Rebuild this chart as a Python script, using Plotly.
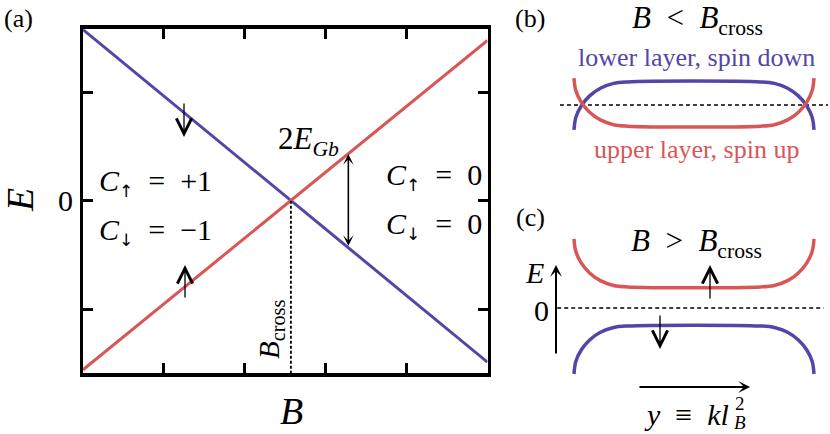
import plotly.graph_objects as go

OFF = 0
FW, FH = 830, 434
BLUE = "#5446a8"
RED = "#d95656"
FONT = "Liberation Serif"
SP = "\u2002"   # en space, wider math-like spacing

# ---------------- data ----------------
# panel (a): energies vs field
B_vals = [0.0, 5.0]
E_spin_down = [1.58, -1.49]     # blue line
E_spin_up = [-1.56, 1.48]       # red line
B_cross = 2.57
B_gap = 3.28
E_gap = [-0.43, 0.43]
a_xticks = [1, 2, 3, 4]
a_yticks = [-1, 0, 1]

# panels (b),(c): edge-state dispersions vs guiding centre y
u_pos = [-1.0, -0.985, -0.94, -0.87, -0.78, -0.67, -0.556,
         0.556, 0.67, 0.78, 0.87, 0.94, 0.985, 1.0]
b_blue = [-1.04, -0.52, -0.04, 0.38, 0.70, 0.90, 0.96,
          0.96, 0.90, 0.70, 0.38, -0.04, -0.52, -1.04]
b_red = [1.12, 0.60, 0.12, -0.30, -0.62, -0.82, -0.88,
         -0.88, -0.82, -0.62, -0.30, 0.12, 0.60, 1.12]
c_red = [2.88, 2.36, 1.88, 1.46, 1.14, 0.94, 0.88,
         0.88, 0.94, 1.14, 1.46, 1.88, 2.36, 2.88]
c_blue = [-2.75, -2.23, -1.75, -1.33, -1.01, -0.81, -0.75,
          -0.75, -0.81, -1.01, -1.33, -1.75, -2.23, -2.75]
b_zero_x = [-1.117, 1.117]
c_zero_x = [-1.14, 1.08]
zero_y = [0, 0]


def PX(x):
    return (x - OFF) / FW


def PY(y):
    return 1 - (y - OFF) / FH


fig = go.Figure()

# panel (a)
fig.add_trace(go.Scatter(x=B_vals, y=E_spin_down, mode="lines",
                         line=dict(color=BLUE, width=3), xaxis="x", yaxis="y"))
fig.add_trace(go.Scatter(x=B_vals, y=E_spin_up, mode="lines",
                         line=dict(color=RED, width=3), xaxis="x", yaxis="y"))
fig.add_trace(go.Scatter(x=[B_cross, B_cross], y=[0, -1.59], mode="lines",
                         line=dict(color="black", width=1.8, dash="3px,2px"),
                         xaxis="x", yaxis="y"))

# panel (b)
fig.add_trace(go.Scatter(x=b_zero_x, y=zero_y, mode="lines",
                         line=dict(color="black", width=1.6, dash="4px,3px"),
                         xaxis="x2", yaxis="y2"))
fig.add_trace(go.Scatter(x=u_pos, y=b_blue, mode="lines", line_shape="spline",
                         line=dict(color=BLUE, width=3.5), xaxis="x2", yaxis="y2"))
fig.add_trace(go.Scatter(x=u_pos, y=b_red, mode="lines", line_shape="spline",
                         line=dict(color=RED, width=3.5), xaxis="x2", yaxis="y2"))

# panel (c)
fig.add_trace(go.Scatter(x=c_zero_x, y=zero_y, mode="lines",
                         line=dict(color="black", width=1.6, dash="4px,3px"),
                         xaxis="x3", yaxis="y3"))
fig.add_trace(go.Scatter(x=u_pos, y=c_red, mode="lines", line_shape="spline",
                         line=dict(color=RED, width=3.5), xaxis="x3", yaxis="y3"))
fig.add_trace(go.Scatter(x=u_pos, y=c_blue, mode="lines", line_shape="spline",
                         line=dict(color=BLUE, width=3.5), xaxis="x3", yaxis="y3"))

ann = []


def txt(x, y, s, size=28, color="black", angle=0, xanchor="center"):
    ann.append(dict(x=PX(x), y=PY(y), xref="paper", yref="paper", text=s,
                    showarrow=False, textangle=angle, xanchor=xanchor,
                    yanchor="middle",
                    font=dict(family=FONT, size=size, color=color)))


def spin_arrow(x, y_tail, y_head):
    # LaTeX-like arrow with an open head, placed by its pixel ends
    ann.append(dict(x=PX(x), y=PY(y_head), xref="paper", yref="paper",
                    ax=0, ay=y_tail - y_head, axref="pixel", ayref="pixel",
                    text="", showarrow=True, arrowhead=5, arrowsize=2.3,
                    arrowwidth=1.3, arrowcolor="black", standoff=0))


def chern(arrow, value):
    sub = '<sub><span style="font-family:DejaVu Sans;font-size:17px">' + arrow + '</span></sub>'
    return "<i>C</i>" + sub + SP + "=" + SP + value


# panel (a) texts
txt(18, 18, "(a)", 26)
txt(20, 200, "<i>E</i>", 38, angle=-90)
txt(291, 411, "<i>B</i>", 38)
txt(65, 200, "0", 30)
txt(155, 182, chern("↑", "+1"), 30)
txt(155, 231, chern("↓", "−1"), 30)
txt(434, 177, chern("↑", "0"), 30)
txt(434, 226, chern("↓", "0"), 30)
txt(308, 141, "2<i>E</i><sub><i>Gb</i></sub>", 31)
txt(271, 329, "<i>B</i><sub>cross</sub>", 29, angle=-90)
spin_arrow(184, 102, 137)
spin_arrow(185, 299, 265)

# panel (b) texts
txt(530, 18, "(b)", 26)
txt(697, 20, "<i>B</i>" + SP + "&lt;" + SP + "<i>B</i><sub>cross</sub>", 31)
txt(696, 58, "lower layer, spin down", 26, BLUE)
txt(696, 150, "upper layer, spin up", 26, RED)

# panel (c) texts
txt(530, 217, "(c)", 26)
txt(696, 243, "<i>B</i>" + SP + "&gt;" + SP + "<i>B</i><sub>cross</sub>", 31)
txt(534, 272, "<i>E</i>", 30)
txt(541, 310, "0", 30)
spin_arrow(710, 300, 265)
spin_arrow(660, 314, 349)
txt(731, 414, "<i>y</i>" + SP + "≡" + SP + "<i>kl</i>", 30, xanchor="right")
txt(733, 403, "2", 19, xanchor="left")
txt(732, 422, "<i>B</i>", 19, xanchor="left")

# black arrows
ann.append(dict(x=B_gap, y=E_gap[1], ax=B_gap, ay=E_gap[0], xref="x", yref="y",
                axref="x", ayref="y", text="", showarrow=True,
                arrowhead=3, startarrowhead=3, arrowside="end+start",
                arrowsize=1.1, startarrowsize=1.1, arrowwidth=1.6,
                arrowcolor="black", standoff=0, startstandoff=0))
ann.append(dict(x=-1.15, y=1.79, ax=-1.15, ay=-1.96, xref="x3", yref="y3",
                axref="x3", ayref="y3", text="", showarrow=True,
                arrowhead=3, arrowsize=1.0, arrowwidth=2, arrowcolor="black",
                standoff=0))
ann.append(dict(x=0.467, y=-3.29, ax=-0.467, ay=-3.29, xref="x3", yref="y3",
                axref="x3", ayref="y3", text="", showarrow=True,
                arrowhead=3, arrowsize=1.0, arrowwidth=2, arrowcolor="black",
                standoff=0))

hidden = dict(visible=False, showgrid=False, zeroline=False, fixedrange=True)

fig.update_layout(
    width=FW, height=FH,
    margin=dict(l=0, r=0, t=0, b=0),
    paper_bgcolor="white", plot_bgcolor="white",
    showlegend=False,
    annotations=ann,
    xaxis=dict(domain=[PX(83), PX(487.5)], range=[0, 5],
               tickvals=a_xticks, ticks="inside", ticklen=10, tickwidth=3,
               tickcolor="black", showticklabels=False, showline=True,
               linewidth=3.5, linecolor="black", mirror="ticks",
               showgrid=False, zeroline=False),
    yaxis=dict(domain=[PY(373), PY(28.5)], range=[-1.59, 1.59],
               tickvals=a_yticks, ticks="inside", ticklen=10, tickwidth=3,
               tickcolor="black", showticklabels=False, showline=True,
               linewidth=3.5, linecolor="black", mirror="ticks",
               showgrid=False, zeroline=False),
    xaxis2=dict(domain=[PX(520), 1.0], range=[-1.45, 1.1333], anchor="y2", **hidden),
    yaxis2=dict(domain=[PY(200), 1.0], range=[-3.958, 4.375], anchor="x2", **hidden),
    xaxis3=dict(domain=[PX(520), 1.0], range=[-1.45, 1.1333], anchor="y3", **hidden),
    yaxis3=dict(domain=[0.0, PY(200)], range=[-5.25, 4.5], anchor="x3", **hidden),
)

fig.write_html("out.html",
               config={"displayModeBar": False, "staticPlot": True},
               post_script="document.body.style.margin='0';"
                           "document.body.style.overflow='hidden';")
